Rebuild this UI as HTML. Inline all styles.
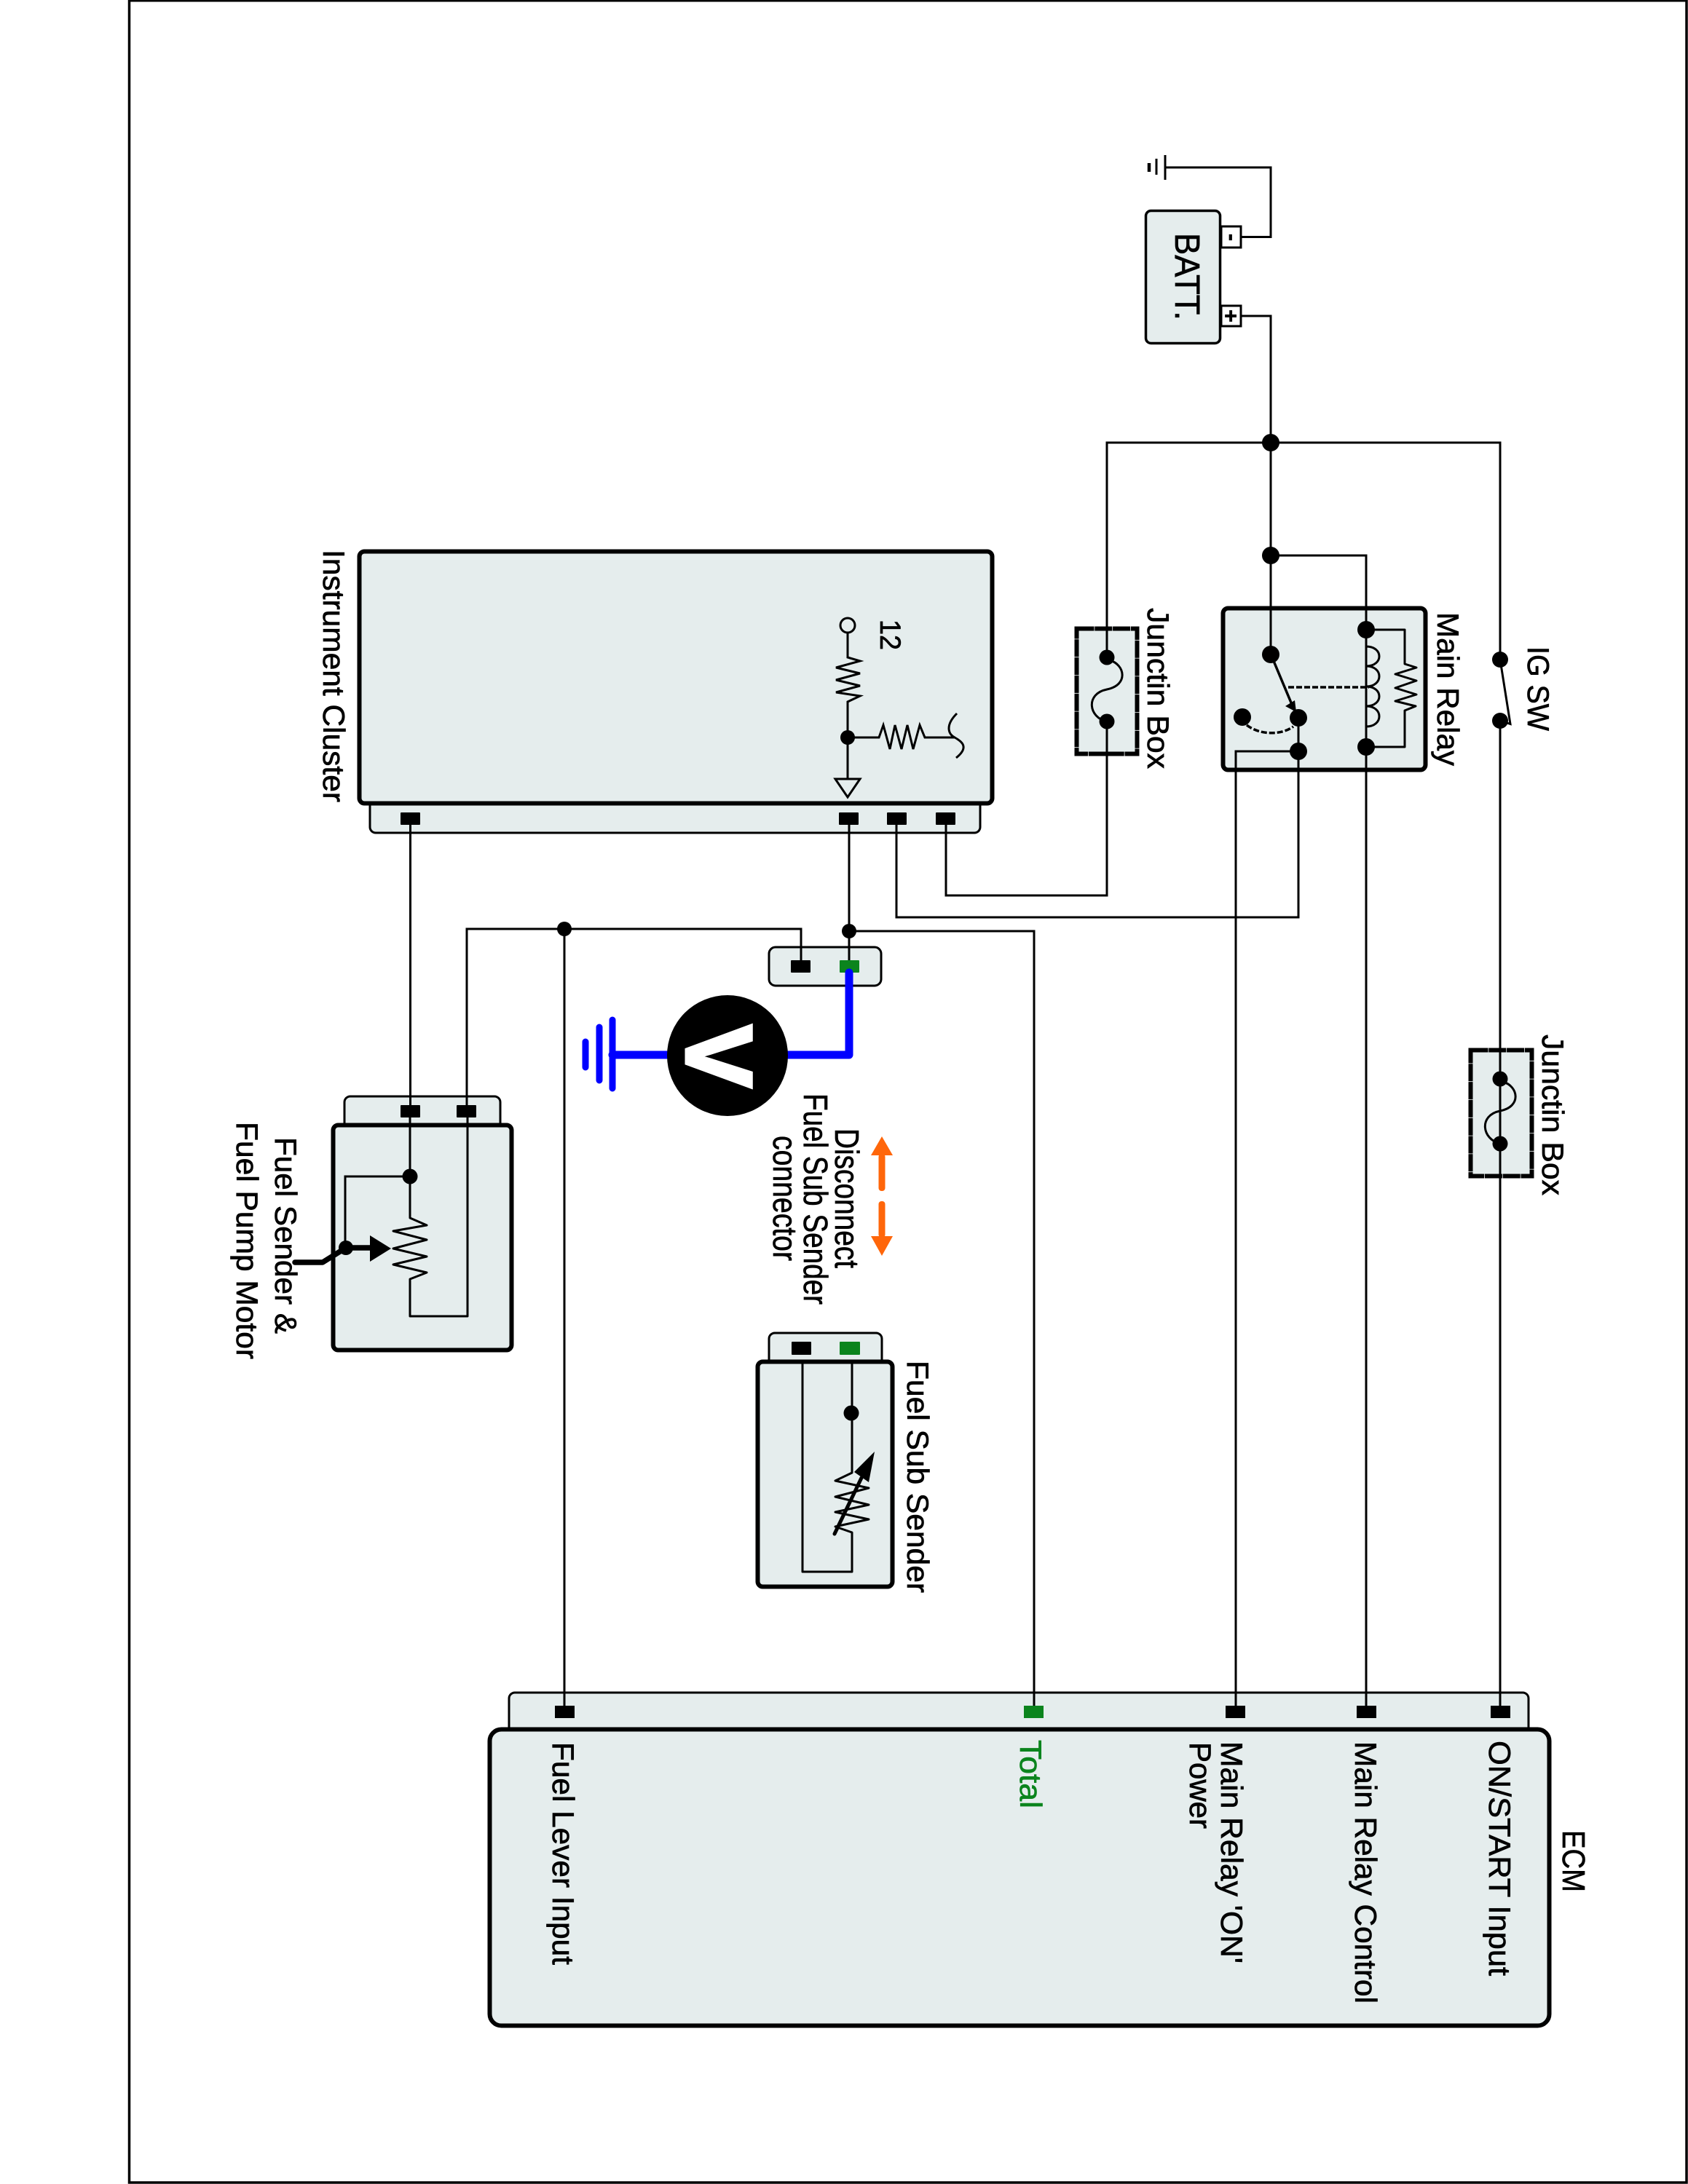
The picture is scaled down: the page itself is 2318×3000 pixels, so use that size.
<!DOCTYPE html>
<html>
<head>
<meta charset="utf-8">
<style>
html,body{margin:0;padding:0;background:#fff;width:2318px;height:3000px;overflow:hidden}
svg{display:block}
text{font-family:"Liberation Sans",sans-serif;font-size:42px;fill:#000;stroke:#000;stroke-width:.7px}
.b{fill:#e5eded;stroke:#000;stroke-width:6}
.s{fill:#e5eded;stroke:#000;stroke-width:3}
.w{fill:none;stroke:#000;stroke-width:3}
</style>
</head>
<body>
<svg width="2318" height="3000" viewBox="0 0 2318 3000" xmlns="http://www.w3.org/2000/svg">
<rect width="2318" height="3000" fill="#fff"/>
<!-- frame -->
<path d="M177.500 0V2998H2316V0H177.500Z" fill="none" stroke="#000" stroke-width="3.500"/>
<path d="M177.500 1H2316" fill="none" stroke="#000" stroke-width="3"/>

<!-- boxes -->
<rect x="508" y="1090" width="838" height="54" rx="8" class="s"/>
<rect x="493.500" y="757.500" width="869" height="346" rx="7" class="b"/>
<rect x="1056" y="1301" width="154" height="53" rx="9" class="s"/>
<rect x="473" y="1506" width="214" height="50" rx="8" class="s"/>
<rect x="457.500" y="1545.500" width="245" height="309" rx="7" class="b"/>
<rect x="1056" y="1831" width="155" height="50" rx="8" class="s"/>
<rect x="1040.500" y="1870.500" width="185" height="309" rx="7" class="b"/>
<rect x="699" y="2325" width="1400" height="70" rx="8" class="s"/>
<rect x="672.500" y="2375.500" width="1455" height="407" rx="16" class="b"/>
<rect x="1573.500" y="289.500" width="102" height="182" rx="7" fill="#e5eded" stroke="#000" stroke-width="3.500"/>
<rect x="1677" y="311" width="27" height="29" fill="#fff" stroke="#000" stroke-width="3"/>
<rect x="1677" y="420" width="27" height="28" fill="#fff" stroke="#000" stroke-width="3"/>
<rect x="1679.500" y="835.500" width="278" height="222" rx="7" class="b"/>
<rect x="1478.500" y="863.500" width="83" height="172" fill="#e5eded" stroke="#000" stroke-width="6" stroke-dasharray="24 .8"/>
<rect x="2019.500" y="1442.500" width="84" height="173" fill="#e5eded" stroke="#000" stroke-width="6" stroke-dasharray="24 .8"/>

<!-- ground + battery wires -->
<path d="M1600 230H1745V325.500H1704" class="w"/>
<path d="M1600 213V247M1588 218V240" fill="none" stroke="#000" stroke-width="3"/>
<path d="M1578 224V236" fill="none" stroke="#000" stroke-width="4.500"/>
<path d="M1704 434H1745V899" class="w"/>
<path d="M1520 903V608H2060V906" class="w"/>
<path d="M1745 763H1876V1026" class="w"/>
<path d="M2060 990V2345" class="w"/>
<path d="M1520 991V1230H1299V1125" class="w"/>
<path d="M1783 986V1260H1231V1125" class="w"/>
<path d="M1697 2345V1032H1783" class="w"/>
<path d="M1876 1026V2345" class="w"/>
<path d="M1166 1125V1330" class="w"/>
<path d="M1166 1279H1420V2345" class="w"/>
<path d="M563.500 1125V1520" class="w"/>
<path d="M1100 1325V1276H641V1520" class="w"/>
<path d="M775 1276V2345" class="w"/>

<!-- fuses -->
<path d="M1524 907C1545 913 1550 941 1520 947C1490 953 1495 986 1520 991" class="w" stroke-width="3.500"/>
<path d="M2064 1486C2085 1492 2090 1520 2060 1526C2030 1532 2035 1565 2060 1571" class="w" stroke-width="3.500"/>

<!-- IG switch -->
<path d="M2060 906L2074 994.500L2060 990" class="w"/>

<!-- relay inside -->
<path d="M1749 908L1775 970" fill="none" stroke="#000" stroke-width="3.500"/>
<polygon points="1780,978 1765,970 1778,962" fill="#000"/>
<path d="M1769 944H1880" fill="none" stroke="#000" stroke-width="3.500" stroke-dasharray="8 3"/>
<path d="M1712 996C1730 1010 1760 1010 1776 998" fill="none" stroke="#000" stroke-width="3.500" stroke-dasharray="8 3"/>
<path d="M1876 865V888C1900 888 1900 915 1876 915C1900 915 1900 943 1876 943C1900 943 1900 970 1876 970C1900 970 1900 998 1876 998V1026" class="w"/>
<path d="M1876 865H1929V912L1945 917L1916 926L1945 935L1916 945L1945 954L1916 963L1944 970L1929 976V1026H1876" class="w" stroke-linejoin="round"/>

<!-- cluster inside -->
<circle cx="1164" cy="859" r="10" fill="#e5eded" stroke="#000" stroke-width="3"/>
<path d="M1164 869V903L1181 908L1148 917L1181 925L1148 934L1181 942L1148 951L1181 956L1164 964V1070" class="w"/>
<polygon points="1147,1070 1181,1070 1164,1095" fill="#e5eded" stroke="#000" stroke-width="3"/>
<path d="M1164 1013H1207L1213 996L1222 1029L1229 996L1238 1029L1246 996L1254 1029L1263 996L1270 1013H1311" class="w"/>
<path d="M1314 980C1296 998 1304 1010 1311 1013C1320 1018 1332 1026 1313 1041" class="w"/>

<!-- pins -->
<g fill="#000">
<rect x="550" y="1116" width="27" height="17" rx="1"/>
<rect x="1152" y="1116" width="27" height="17" rx="1"/>
<rect x="1218" y="1116" width="27" height="17" rx="1"/>
<rect x="1285" y="1116" width="27" height="17" rx="1"/>
<rect x="1086" y="1319" width="27" height="17" rx="1"/>
<rect x="550" y="1518" width="27" height="17" rx="1"/>
<rect x="627" y="1518" width="27" height="17" rx="1"/>
<rect x="1087" y="1843" width="27" height="18" rx="1"/>
<rect x="762" y="2343" width="27" height="17"/>
<rect x="1683" y="2343" width="27" height="17"/>
<rect x="1863" y="2343" width="27" height="17"/>
<rect x="2047" y="2343" width="27" height="17"/>
</g>
<g fill="#0b841d">
<rect x="1153" y="1319" width="27" height="17" rx="1"/>
<rect x="1153" y="1843" width="28" height="18" rx="1"/>
<rect x="1406" y="2343" width="27" height="17"/>
</g>

<!-- blue meter -->
<path d="M1166 1336V1449H1075M925 1449H841" fill="none" stroke="#0000ff" stroke-width="11" stroke-linecap="round" stroke-linejoin="round"/>
<path d="M841 1401V1495M823 1411V1484M804 1431V1466" fill="none" stroke="#0000ff" stroke-width="9" stroke-linecap="round"/>
<circle cx="999" cy="1450" r="83" fill="#000"/>
<text transform="translate(943,1451) rotate(90)" text-anchor="middle" style="font-size:128px;font-weight:bold;fill:#fff;stroke:#fff;stroke-width:5px">V</text>

<!-- orange arrows -->
<g fill="#ff660a">
<polygon points="1196,1587 1211,1561 1226,1587"/>
<rect x="1206.500" y="1585" width="9" height="51" rx="4"/>
<rect x="1206.500" y="1650" width="9" height="50" rx="4"/>
<polygon points="1196,1698 1226,1698 1211,1725"/>
</g>

<!-- fuel sender inside -->
<path d="M563 1535V1673L586 1683L540 1691L586 1703L540 1715L586 1726L540 1737L586 1748L563 1757V1808H642V1535" class="w" stroke-linejoin="round"/>
<path d="M563 1616H474V1714" class="w"/>
<path d="M405 1734H443L475 1714L510 1714" fill="none" stroke="#000" stroke-width="7.500" stroke-linecap="round" stroke-linejoin="round"/>
<polygon points="508,1697 537,1715 508,1733" fill="#000"/>

<!-- fuel sub sender inside -->
<path d="M1102 1872V2159H1170V2105L1147 2097L1193 2087L1147 2077L1193 2067L1147 2056L1193 2044L1147 2034L1170 2023V1872" class="w" stroke-linejoin="round"/>
<path d="M1146 2107L1183 2030" fill="none" stroke="#000" stroke-width="5" stroke-linecap="round"/>
<polygon points="1201,1994 1173,2022 1193,2036" fill="#000"/>

<!-- nodes -->
<g fill="#000">
<circle cx="1745" cy="608" r="12"/>
<circle cx="1745" cy="763" r="12"/>
<circle cx="1745" cy="899" r="12"/>
<circle cx="1876" cy="865" r="12"/>
<circle cx="1876" cy="1026" r="12"/>
<circle cx="1783" cy="986" r="12"/>
<circle cx="1783" cy="1032" r="12"/>
<circle cx="1706" cy="985" r="12"/>
<circle cx="1520" cy="903" r="10.500"/>
<circle cx="1520" cy="991" r="10.500"/>
<circle cx="2060" cy="906" r="11"/>
<circle cx="2060" cy="990" r="11"/>
<circle cx="2060" cy="1482" r="10.500"/>
<circle cx="2060" cy="1571" r="10.500"/>
<circle cx="1164" cy="1013" r="10"/>
<circle cx="1166" cy="1279" r="10"/>
<circle cx="775" cy="1276" r="10"/>
<circle cx="563" cy="1616" r="10.500"/>
<circle cx="475" cy="1714" r="10"/>
<circle cx="1169" cy="1941" r="10.500"/>
</g>

<!-- text -->
<text transform="translate(1614,320) rotate(90)" textLength="120" lengthAdjust="spacingAndGlyphs" style="font-size:48px">BATT.</text>
<text transform="translate(1680,434) rotate(90)" text-anchor="middle" style="font-size:30px;font-weight:bold">+</text>
<text transform="translate(1682,326) rotate(90)" text-anchor="middle" style="font-size:30px;font-weight:bold">-</text>
<text transform="translate(1576,835) rotate(90)" textLength="221" lengthAdjust="spacingAndGlyphs">Junctin Box</text>
<text transform="translate(1974,841) rotate(90)" textLength="211" lengthAdjust="spacingAndGlyphs">Main Relay</text>
<text transform="translate(2098,888) rotate(90)" textLength="116" lengthAdjust="spacingAndGlyphs">IG SW</text>
<text transform="translate(2118,1421) rotate(90)" textLength="221" lengthAdjust="spacingAndGlyphs">Junctin Box</text>
<text transform="translate(444,755) rotate(90)" textLength="347" lengthAdjust="spacingAndGlyphs">Instrument Cluster</text>
<text transform="translate(1209,851) rotate(90)" textLength="42" lengthAdjust="spacingAndGlyphs" style="font-size:40px">12</text>
<text transform="translate(378,1562) rotate(90)" textLength="270" lengthAdjust="spacingAndGlyphs">Fuel Sender &amp;</text>
<text transform="translate(325,1541) rotate(90)" textLength="326" lengthAdjust="spacingAndGlyphs">Fuel Pump Motor</text>
<text transform="translate(1147,1550) rotate(90)" textLength="192" lengthAdjust="spacingAndGlyphs" style="font-size:46px">Disconnect</text>
<text transform="translate(1104,1502) rotate(90)" textLength="290" lengthAdjust="spacingAndGlyphs" style="font-size:46px">Fuel Sub Sender</text>
<text transform="translate(1062,1560) rotate(90)" textLength="172" lengthAdjust="spacingAndGlyphs" style="font-size:46px">connector</text>
<text transform="translate(1246,1869) rotate(90)" textLength="319" lengthAdjust="spacingAndGlyphs">Fuel Sub Sender</text>
<text transform="translate(2146,2514) rotate(90)" textLength="85" lengthAdjust="spacingAndGlyphs" style="font-size:44px">ECM</text>
<text transform="translate(2045,2391) rotate(90)" textLength="323" lengthAdjust="spacingAndGlyphs">ON/START Input</text>
<text transform="translate(1861,2392) rotate(90)" textLength="360" lengthAdjust="spacingAndGlyphs">Main Relay Control</text>
<text transform="translate(1677,2392) rotate(90)" textLength="305" lengthAdjust="spacingAndGlyphs">Main Relay 'ON'</text>
<text transform="translate(1634,2393) rotate(90)" textLength="119" lengthAdjust="spacingAndGlyphs">Power</text>
<text transform="translate(1401,2390) rotate(90)" textLength="94" lengthAdjust="spacingAndGlyphs" style="fill:#0b841d;stroke:#0b841d">Total</text>
<text transform="translate(759,2393) rotate(90)" textLength="306" lengthAdjust="spacingAndGlyphs">Fuel Lever Input</text>
</svg>
</body>
</html>
